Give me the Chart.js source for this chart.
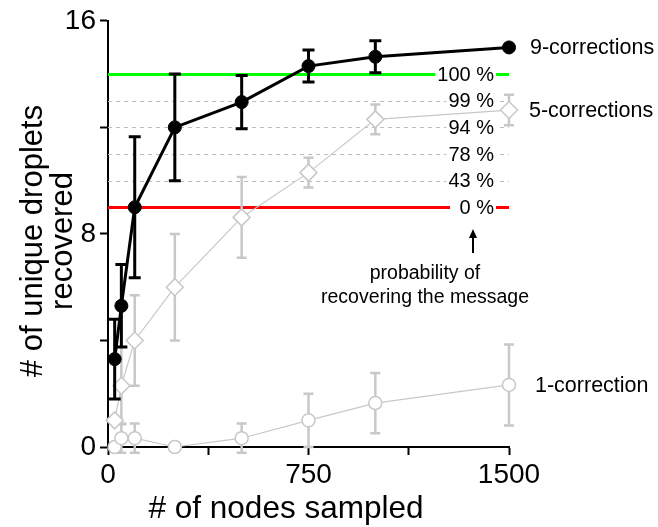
<!DOCTYPE html>
<html>
<head>
<meta charset="utf-8">
<script src="https://cdn.jsdelivr.net/npm/chart.js@4"></script>
<style>
  html,body{margin:0;padding:0;background:#fff;}
  #wrap{width:658px;height:527px;}
</style>
</head>
<body>
<div id="wrap"><canvas id="c" width="658" height="527"></canvas></div>
<script>
// ---- data ----
const nodes = [25, 50, 100, 250, 500, 750, 1000, 1500];
const corr9 = [3.3, 5.3, 9.0, 12.0, 12.95, 14.3, 14.65, 15.0];
const corr9Err = [1.5, 1.55, 2.65, 2.0, 1.0, 0.6, 0.6, 0];
const corr5 = [1.0, 2.3, 4.0, 6.0, 8.62, 10.3, 12.3, 12.65];
const corr5Err = [0, 1.45, 1.7, 2.0, 1.52, 0.56, 0.56, 0.57];
const corr1 = [0, 0.33, 0.33, 0, 0.33, 1.0, 1.65, 2.33];
const corr1Err = [0, 0.55, 0.55, 0, 0.55, 1.0, 1.13, 1.52];
const seriesNames = ['9-corrections', '5-corrections', '1-correction'];
const thresholds = [14, 13, 12, 11, 10, 9];
const probLabels = ['100 %', '99 %', '94 %', '78 %', '43 %', '0 %'];
const xTicksMajor = [0, 750, 1500];
const yTicksMajor = [0, 8, 16];

const FONT = '"Liberation Sans", Arial, sans-serif';
const GREY = '#c8c8c8';
const seriesVals = [corr9, corr5, corr1];
const errs = [corr9Err, corr5Err, corr1Err];
const errStyle = [{c:'#000', w:3, cap:6}, {c:GREY, w:2.5, cap:5}, {c:GREY, w:2.5, cap:5}];

const refLines = {
  id: 'refLines',
  beforeDatasetsDraw(chart) {
    const {ctx, chartArea, scales:{x, y}} = chart;
    ctx.save();
    thresholds.forEach((t, i) => {
      const py = Math.round(y.getPixelForValue(t)) + 0.5;
      ctx.beginPath();
      if (i === 0 || i === thresholds.length - 1) {
        ctx.strokeStyle = i === 0 ? '#00ff00' : '#ff0000';
        ctx.lineWidth = 3;
        ctx.setLineDash([]);
      } else {
        ctx.strokeStyle = '#bdbdbd';
        ctx.lineWidth = 1;
        ctx.setLineDash([4, 4]);
      }
      ctx.moveTo(chartArea.left, py);
      ctx.lineTo(chartArea.right, py);
      ctx.stroke();
    });
    ctx.setLineDash([]);
    ctx.font = '20px ' + FONT;
    ctx.textBaseline = 'middle';
    ctx.textAlign = 'right';
    const rx = 494;
    thresholds.forEach((t, i) => {
      const py = y.getPixelForValue(t);
      const w = Math.max(ctx.measureText(probLabels[i]).width + 2, 44);
      ctx.fillStyle = '#fff';
      ctx.fillRect(rx - w, py - 2, w + 2, 4);
      ctx.fillStyle = '#000';
      ctx.fillText(probLabels[i], rx, py + 1);
    });
    ctx.restore();
  },
  beforeDatasetDraw(chart, args) {
    const {ctx, scales:{x, y}} = chart;
    const i = args.index;
    const vals = seriesVals[i];
    const e = errs[i], s = errStyle[i];
    ctx.save();
    ctx.strokeStyle = s.c;
    ctx.lineWidth = s.w;
    vals.forEach((v, k) => {
      if (!e[k]) return;
      const px = x.getPixelForValue(nodes[k]);
      const top = y.getPixelForValue(v + e[k]);
      const bot = y.getPixelForValue(v - e[k]);
      ctx.beginPath();
      ctx.moveTo(px, top); ctx.lineTo(px, bot);
      ctx.moveTo(px - s.cap, top); ctx.lineTo(px + s.cap, top);
      ctx.moveTo(px - s.cap, bot); ctx.lineTo(px + s.cap, bot);
      ctx.stroke();
    });
    ctx.restore();
  },
  afterDraw(chart) {
    const {ctx, scales:{x, y}} = chart;
    ctx.save();
    ctx.fillStyle = '#000';
    // series labels
    ctx.font = '21.5px ' + FONT;
    ctx.textAlign = 'left';
    ctx.textBaseline = 'middle';
    ctx.fillText(seriesNames[0], 530, y.getPixelForValue(corr9[7]) + 1);
    ctx.fillText(seriesNames[1], 529, y.getPixelForValue(corr5[7]) + 1);
    ctx.fillText(seriesNames[2], 535, y.getPixelForValue(corr1[7]) + 1);
    // annotation
    ctx.font = '19.5px ' + FONT;
    ctx.textAlign = 'center';
    ctx.fillText('probability of', 425, 274);
    ctx.fillText('recovering the message', 425, 298);
    ctx.strokeStyle = '#000';
    ctx.lineWidth = 2;
    ctx.beginPath();
    ctx.moveTo(473, 253); ctx.lineTo(473, 236); ctx.stroke();
    ctx.beginPath();
    ctx.moveTo(473, 229); ctx.lineTo(469, 238); ctx.lineTo(477, 238); ctx.closePath(); ctx.fill();
    // axis titles
    ctx.font = '31.5px ' + FONT;
    ctx.textBaseline = 'middle';
    ctx.fillText('# of nodes sampled', 286, 509);
    ctx.font = '31px ' + FONT;
    ctx.save();
    ctx.translate(33, 241);
    ctx.rotate(-Math.PI / 2);
    ctx.fillText('# of unique droplets', 0, 0);
    ctx.restore();
    ctx.save();
    ctx.translate(63, 241);
    ctx.rotate(-Math.PI / 2);
    ctx.fillText('recovered', 0, 0);
    ctx.restore();
    ctx.restore();
  }
};

new Chart(document.getElementById('c'), {
  type: 'line',
  data: {
    datasets: [
      {
        label: seriesNames[0],
        data: nodes.map((n, i) => ({x: n, y: corr9[i]})),
        borderColor: '#000', borderWidth: 3,
        pointRadius: 6.5, pointBackgroundColor: '#000', pointBorderColor: '#000', pointBorderWidth: 1,
        clip: false, tension: 0
      },
      {
        label: seriesNames[1],
        data: nodes.map((n, i) => ({x: n, y: corr5[i]})),
        borderColor: GREY, borderWidth: 1.2,
        pointStyle: 'rectRot', pointRadius: 8.5,
        pointBackgroundColor: '#fff', pointBorderColor: GREY, pointBorderWidth: 1.5,
        clip: false, tension: 0
      },
      {
        label: seriesNames[2],
        data: nodes.map((n, i) => ({x: n, y: corr1[i]})),
        borderColor: GREY, borderWidth: 1.2,
        pointStyle: 'circle', pointRadius: 6.5,
        pointBackgroundColor: '#fff', pointBorderColor: GREY, pointBorderWidth: 1.5,
        clip: false, tension: 0
      }
    ]
  },
  options: {
    responsive: false,
    animation: false,
    events: [],
    layout: {padding: {left: 0, right: 149, top: 17, bottom: 0}},
    plugins: {legend: {display: false}, tooltip: {enabled: false}},
    scales: {
      x: {
        type: 'linear', min: 0, max: 1500,
        afterFit(s) { s.height = 80; },
        border: {display: true, color: '#000', width: 2},
        grid: {display: true, drawOnChartArea: false, drawTicks: true, tickLength: 8, tickWidth: 2, tickColor: '#000', color: '#000'},
        ticks: {
          stepSize: 375, autoSkip: false, maxRotation: 0,
          padding: 3, color: '#000', font: {family: FONT, size: 28},
          callback: v => xTicksMajor.includes(v) ? String(v) : ''
        }
      },
      y: {
        type: 'linear', min: 0, max: 16,
        afterFit(s) { s.width = 108; },
        border: {display: true, color: '#000', width: 2},
        grid: {display: true, drawOnChartArea: false, drawTicks: true, tickLength: 8, tickWidth: 2, tickColor: '#000', color: '#000'},
        ticks: {
          stepSize: 4, autoSkip: false,
          padding: 4, color: '#000', font: {family: FONT, size: 28},
          callback: v => yTicksMajor.includes(v) ? String(v) : ''
        }
      }
    }
  },
  plugins: [refLines]
});
</script>
</body>
</html>
